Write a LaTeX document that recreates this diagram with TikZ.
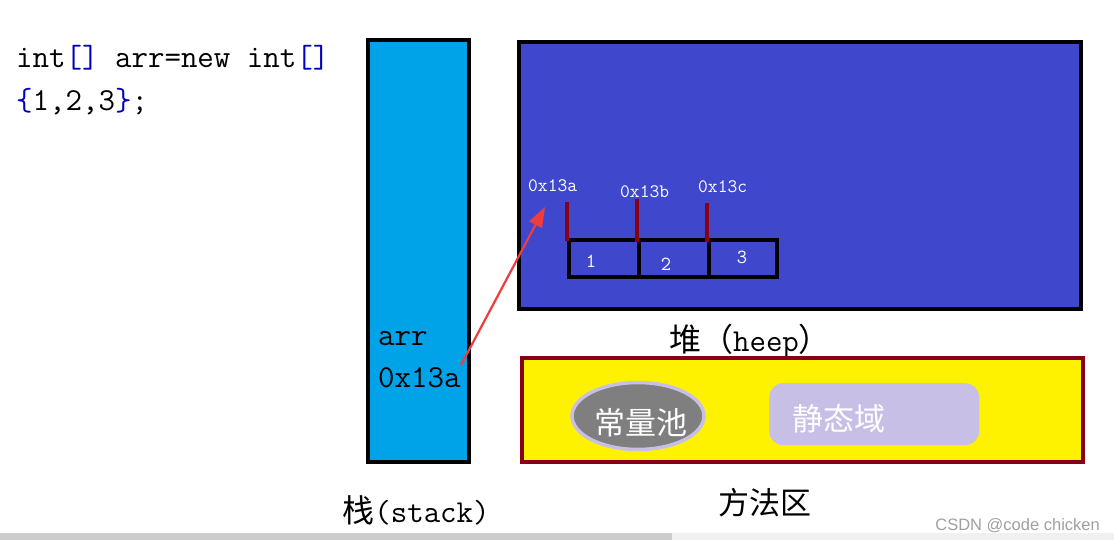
\documentclass[tikz,border=0pt]{standalone}
\usepackage{fontspec}
\newfontfamily\cjk{Noto Sans CJK SC}
\newfontfamily\wm{Liberation Sans}
\usetikzlibrary{shapes.geometric,arrows.meta}
\definecolor{stackblue}{HTML}{00A2E8}
\definecolor{heapblue}{HTML}{3F48CC}
\definecolor{methyellow}{HTML}{FFF200}
\definecolor{darkred}{HTML}{880015}
\definecolor{lavender}{HTML}{C8BFE7}
\definecolor{poolgray}{HTML}{7F7F7F}
\definecolor{arrowred}{HTML}{F03C3C}
\definecolor{codeblue}{HTML}{0000C0}
\definecolor{wmgray}{HTML}{A0A0A0}
\begin{document}
\begin{tikzpicture}[x=1pt,y=-1pt,
  area/.style={line width=4pt, draw=black},
  code/.style={inner sep=0pt, anchor=base west, font=\ttfamily\fontsize{32}{36}\selectfont},
  addr/.style={inner sep=0pt, anchor=base west, text=white, font=\ttfamily\fontsize{19}{22}\selectfont},
  num/.style={inner sep=0pt, anchor=base, text=white, font=\ttfamily\fontsize{20}{24}\selectfont},
  cell/.style={draw=black, line width=4pt, fill=heapblue, minimum height=37pt, inner sep=0pt, anchor=north west},
  ptr/.style={line width=4pt, draw=darkred},
  title/.style={inner sep=0pt, anchor=center, font=\ttfamily\fontsize{32}{36}\selectfont},
  cjktext/.style={inner sep=0pt, anchor=center, text=white, font=\cjk\fontsize{31}{36}\selectfont}]
\useasboundingbox (0,0) rectangle (1114,540);
\fill[white] (0,0) rectangle (1114,540);
% scrollbar
\fill[black!6] (0,533) rectangle (1114,540);
\fill[black!20] (0,533) rectangle (672,540);

% code
\node[code] (code1) at (16,68) {int{\color{codeblue}[]} arr=new int{\color{codeblue}[]}};
\node[code] (code2) at (16,111) {{\color{codeblue}\{}1,2,3{\color{codeblue}\}};};

% stack
\draw[area, fill=stackblue] (368,40) rectangle (469,462);
\node[code] (arrname) at (378,345) {arr};
\node[code] (arrval) at (378,387) {0x13a};
\node[title] (stacktitle) at (416,510) {{\cjk 栈}(stack)};

% heap
\draw[area, fill=heapblue] (519,42) rectangle (1081,309);
\node[title] (heaptitle) at (750,341) {{\cjk 堆（}heep{\cjk ）}};
\node[cell, minimum width=70pt] (c1) at (567,238) {};
\node[cell, minimum width=70pt] (c2) at (637,238) {};
\node[cell, minimum width=68pt] (c3) at (707,238) {};
\node[num] (n1) at (591,268) {1};
\node[num] (n2) at (666,271) {2};
\node[num] (n3) at (742,264) {3};
\coordinate (p1) at (567,202);
\coordinate (p2) at (637,199);
\coordinate (p3) at (707,203);
\draw[ptr] (p1) -- ([yshift=-3pt]c1.north west);
\draw[ptr] (p2) -- ([yshift=-4pt]c2.north west);
\draw[ptr] (p3) -- ([yshift=-4pt]c3.north west);
\node[addr] (a1) at (528,192) {0x13a};
\node[addr] (a2) at (620,198) {0x13b};
\node[addr] (a3) at (698,193) {0x13c};

% arrow
\coordinate (tail) at (461,365);
\coordinate (tip) at (545,207);
\draw[arrowred, line width=2.2pt, -{Triangle[length=20pt,width=14pt]}] (tail) -- (tip);

% method area
\draw[line width=4pt, draw=darkred, fill=methyellow] (522,358) rectangle (1083,462);
\node[ellipse, draw=lavender, line width=3.5pt, fill=poolgray, minimum width=132pt, minimum height=67pt, inner sep=0pt] (pool) at (638,416) {};
\node[cjktext] (pooltext) at (641,423) {常量池};
\node[draw=none, fill=lavender, rounded corners=14pt, minimum width=210pt, minimum height=62pt, inner sep=0pt, anchor=north west] (static) at (769,383) {};
\node[cjktext] (statictext) at (839,419) {静态域};
\node[title, font=\cjk\fontsize{31}{36}\selectfont] (methtitle) at (765,503) {方法区};

% watermark
\node[inner sep=0pt, anchor=base east, text=wmgray, font=\wm\fontsize{16.5}{19}\selectfont] (wmk) at (1100,530) {CSDN @code chicken};
\end{tikzpicture}
\end{document}
